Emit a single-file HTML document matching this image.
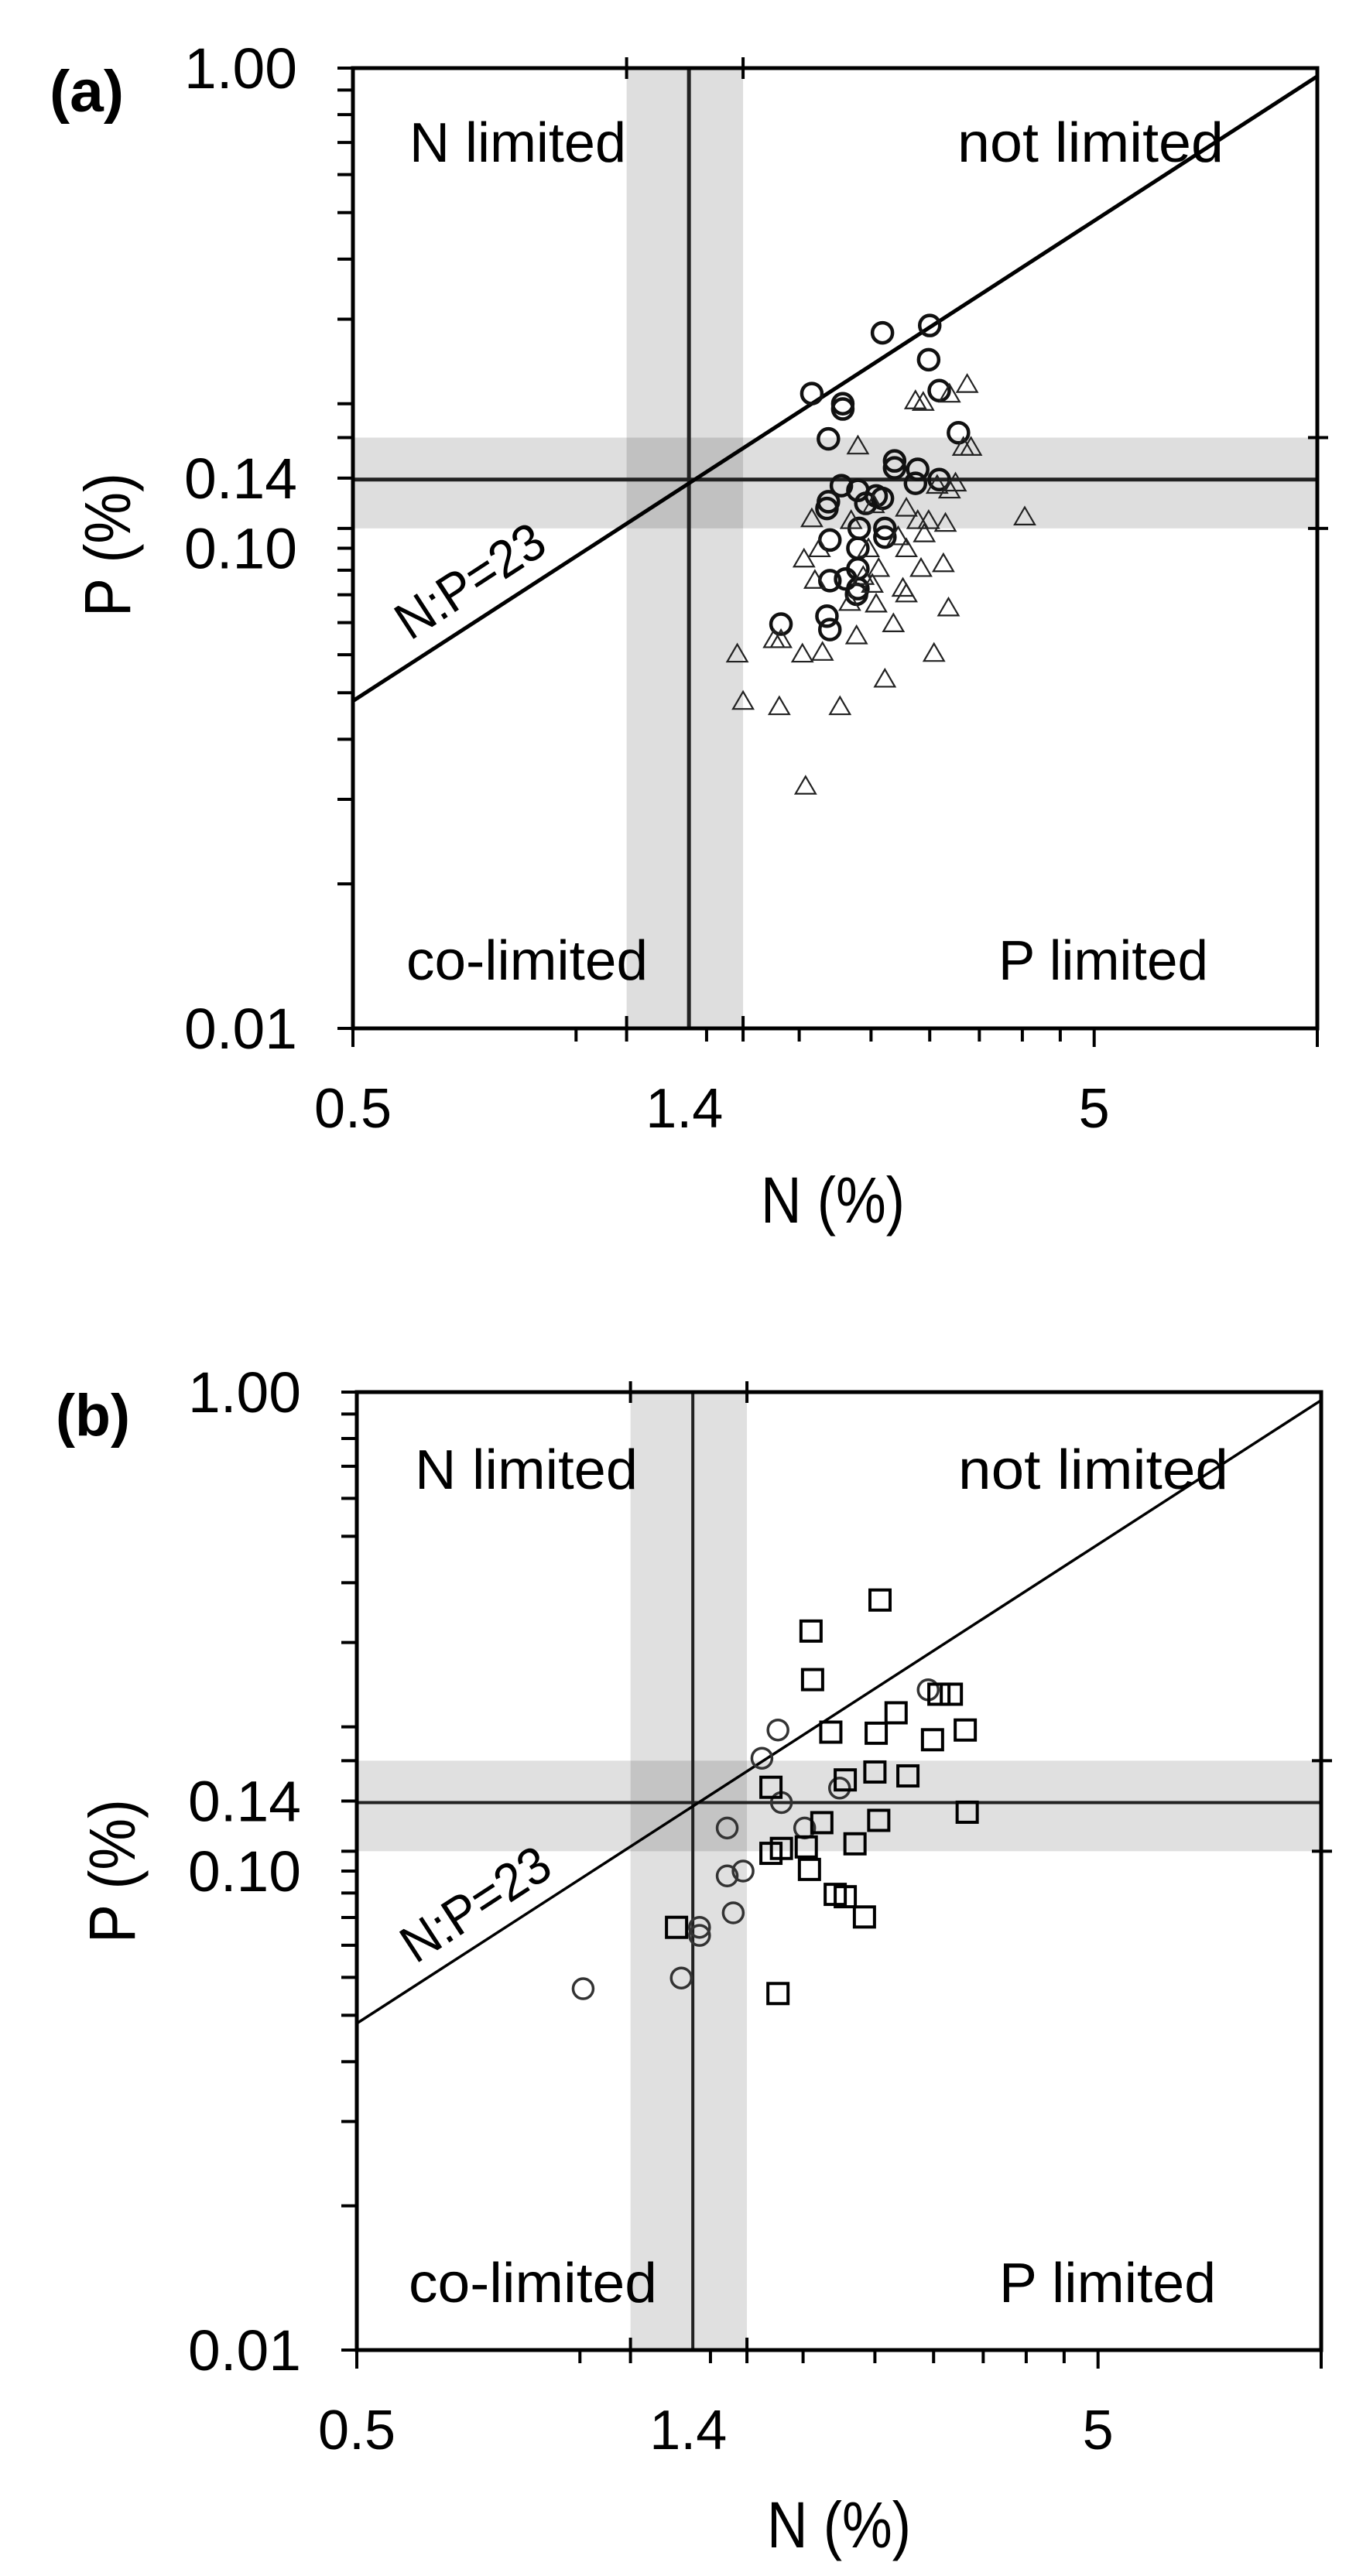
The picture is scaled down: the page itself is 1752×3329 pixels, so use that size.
<!DOCTYPE html>
<html><head><meta charset="utf-8"><title>N vs P limitation plots</title>
<style>html,body{margin:0;padding:0;background:#fff}svg{display:block}text{font-family:"Liberation Sans",sans-serif;fill:#000}</style>
</head><body>
<svg id="chart" width="1752" height="3329" viewBox="0 0 1752 3329" xmlns="http://www.w3.org/2000/svg"></svg>
<script>
// ---- data (N %, P %) ----
const xTickLabels = ["0.5", "1.4", "5"];
const xTickValues = [0.5, 1.4, 5];
const yTickLabels = ["1.00", "0.14", "0.10", "0.01"];
const yTickValues = [1, 0.14, 0.10, 0.01];
const xMinorTicks = [1, 1.17, 1.5, 1.68, 2, 2.5, 3, 3.5, 4, 4.5, 10];
const yMinorTicks = [0.02,0.03,0.04,0.05,0.06,0.07,0.08,0.09,0.11,0.17,0.2,0.3,0.4,0.5,0.6,0.7,0.8,0.9];
const nCritical = [1.17, 1.42, 1.68];
const pCritical = [0.11, 0.139, 0.17];
const npRatio = 10.4;

const aCircleN = [2.59,3.00,2.99,3.09,2.08,2.29,2.29,3.28,2.19,2.69,2.69,2.89,3.09,2.28,2.40,2.59,2.19,2.18,2.46,2.41,2.61,2.61,2.20,2.40,2.40,2.20,2.31,2.40,2.39,1.89,2.18,2.20,2.87,2.54];
const aCircleP = [0.281,0.291,0.247,0.213,0.210,0.200,0.195,0.174,0.169,0.152,0.147,0.146,0.139,0.135,0.132,0.127,0.125,0.121,0.124,0.110,0.110,0.1055,0.104,0.100,0.0906,0.0856,0.0863,0.0824,0.0802,0.0695,0.0722,0.0677,0.1365,0.1285];
const aTriN = [2.40,3.37,2.94,3.19,3.33,3.41,3.25,4.03,2.79,2.89,2.99,3.15,2.95,2.08,2.13,2.03,2.10,2.52,2.56,2.79,2.92,3.13,2.76,2.79,2.54,3.18,2.68,2.39,2.34,1.85,1.89,2.02,2.15,1.65,3.04,2.61,1.68,1.88,2.27,2.04,2.87,2.48,2.44,2.72,2.35,2.51,3.07,3.19];
const aTriP = [0.163,0.219,0.201,0.209,0.162,0.162,0.1365,0.116,0.121,0.114,0.114,0.1125,0.107,0.115,0.0996,0.0948,0.0856,0.123,0.0906,0.0996,0.0906,0.0927,0.0824,0.0802,0.0764,0.075,0.0695,0.0656,0.077,0.0644,0.0644,0.0601,0.0606,0.0601,0.0603,0.0533,0.0479,0.0467,0.0467,0.0319,0.2025,0.0996,0.0872,0.1055,0.114,0.084,0.135,0.132];

const bCircleN = [2.95,1.85,1.76,1.87,2.24,1.58,2.01,1.58,1.66,1.61,1.45,1.45,1.37,1.01];
const bCircleP = [0.239,0.197,0.172,0.139,0.149,0.123,0.123,0.0977,0.100,0.0818,0.0763,0.0734,0.0598,0.0568];
const bSquareN = [2.54,2.05,2.06,3.05,3.17,2.67,2.18,2.51,3.31,2.99,2.50,2.77,2.28,1.81,3.33,2.53,2.12,2.35,2.02,1.87,1.81,2.04,2.21,2.28,2.42,1.35,1.85];
const bSquareP = [0.368,0.317,0.251,0.234,0.234,0.214,0.195,0.194,0.197,0.188,0.161,0.158,0.155,0.1496,0.1327,0.1276,0.1262,0.114,0.1123,0.1115,0.1089,0.1008,0.0894,0.0884,0.0802,0.0763,0.0555];

const NS = "http://www.w3.org/2000/svg";
const svg = document.getElementById("chart");
function mk(tag, attrs, parent) {
  const e = document.createElementNS(NS, tag);
  for (const k in attrs) e.setAttribute(k, attrs[k]);
  (parent || svg).appendChild(e);
  return e;
}
function txt(parent, s, attrs) { const t = mk("text", attrs, parent); t.textContent = s; return t; }

function drawPanel(cfg) {
  const L = cfg.left, T = cfg.top, W = cfg.w, H = cfg.h;
  const xs = n => L + Math.log10(n / 0.5) / Math.log10(20) * W;
  const ys = p => T + (-Math.log10(p)) / 2 * H;
  const g = mk("g", {});
  
  

  const vb = mk("rect", {x: xs(nCritical[0]), y: T, width: xs(nCritical[2]) - xs(nCritical[0]), height: H, fill: "#000", "fill-opacity": cfg.bandOp}, g);
  
  
  const hb = mk("rect", {x: L, y: ys(pCritical[2]), width: W, height: ys(pCritical[0]) - ys(pCritical[2]), fill: "#000", "fill-opacity": cfg.bandOp}, g);
  
  

  const vl = mk("line", {x1: xs(nCritical[1]), x2: xs(nCritical[1]), y1: T, y2: T + H, stroke: "#222", "stroke-width": cfg.lw}, g);
  
  
  const hl = mk("line", {x1: L, x2: L + W, y1: ys(pCritical[1]), y2: ys(pCritical[1]), stroke: "#222", "stroke-width": cfg.lw}, g);
  
  
  const rl = mk("line", {x1: xs(0.5), y1: ys(0.5 / npRatio), x2: xs(10), y2: ys(10 / npRatio), stroke: "#000", "stroke-width": cfg.rlw}, g);
  
  

  const fr = mk("rect", {x: L, y: T, width: W, height: H, fill: "none", stroke: "#000", "stroke-width": 5}, g);
  
  

  xMinorTicks.forEach(v => {
    const band = (v === 1.17 || v === 1.68);
    const big = (v === 10);
    const t = mk("line", {x1: xs(v), x2: xs(v), y1: band ? T + H - 16 : T + H, y2: T + H + (big ? 24 : 17), stroke: "#000", "stroke-width": 4}, g);
    
    
    if (band) {
      const t2 = mk("line", {x1: xs(v), x2: xs(v), y1: T - 14, y2: T + 14, stroke: "#000", "stroke-width": 4}, g);
      
      
    }
  });
  xTickValues.forEach((v, i) => {
    if (v !== 1.4) {
      const t = mk("line", {x1: xs(v), x2: xs(v), y1: T + H, y2: T + H + 24, stroke: "#000", "stroke-width": 4}, g);
      
      
    }
    const lb = txt(g, xTickLabels[i], {x: xs(v), y: T + H + 128, "font-size": 72, "text-anchor": "middle"});
    
    
  });
  yMinorTicks.forEach(v => {
    const t = mk("line", {x1: L - 20, x2: L, y1: ys(v), y2: ys(v), stroke: "#000", "stroke-width": 4}, g);
    
    
  });
  [0.11, 0.17].forEach(v => {
    const t = mk("line", {x1: L + W - 12, x2: L + W + 14, y1: ys(v), y2: ys(v), stroke: "#000", "stroke-width": 4}, g);
    
    
  });
  yTickValues.forEach((v, i) => {
    const t = mk("line", {x1: L - 20, x2: L, y1: ys(v), y2: ys(v), stroke: "#000", "stroke-width": 4}, g);
    
    
    const lb = txt(g, yTickLabels[i], {x: L - 72, y: ys(v) + 26, "font-size": 74, "text-anchor": "end", textLength: 146, lengthAdjust: "spacingAndGlyphs"});
    
    
  });

  cfg.series.forEach(s => {
    s.N.forEach((n, i) => {
      const cx = xs(n), cy = ys(s.P[i]);
      let e;
      if (s.shape === "circle") {
        e = mk("circle", {cx: cx, cy: cy, r: s.r, fill: "none", stroke: s.color, "stroke-width": s.sw}, g);
      } else if (s.shape === "triangle") {
        const r = s.r;
        e = mk("polygon", {points: `${cx},${cy - r} ${cx - r},${cy + r * 0.72} ${cx + r},${cy + r * 0.72}`, fill: "none", stroke: s.color, "stroke-width": s.sw}, g);
      } else {
        const r = s.r;
        e = mk("rect", {x: cx - r, y: cy - r, width: 2 * r, height: 2 * r, fill: "none", stroke: s.color, "stroke-width": s.sw}, g);
      }
      
      
    });
  });

  cfg.labels.forEach(lb => {
    const t = txt(g, lb.s, {x: lb.x, y: lb.y, "font-size": lb.fs, textLength: lb.w, lengthAdjust: "spacingAndGlyphs", "font-weight": lb.bold ? "bold" : "normal"});
    if (lb.rot) t.setAttribute("transform", `rotate(${lb.rot} ${lb.cx} ${lb.cy})`);
    if (lb.anchor) t.setAttribute("text-anchor", lb.anchor);
    
    
  });
}

function labelsFor(T, B, tag, regions) {
  return [
    {s: tag, x: regions.tagX, y: T + 56, fs: 76, w: 96, bold: true, name: "panel-label"},
    {s: "N limited", x: regions.nl[0], y: regions.top, fs: 72, w: regions.nl[1], name: "n-limited-label"},
    {s: "not limited", x: regions.no[0], y: regions.top, fs: 72, w: regions.no[1], name: "not-limited-label"},
    {s: "co-limited", x: regions.co[0], y: regions.bot, fs: 72, w: regions.co[1], name: "co-limited-label"},
    {s: "P limited", x: regions.pl[0], y: regions.bot, fs: 72, w: regions.pl[1], name: "p-limited-label"},
    {s: "N (%)", x: regions.xl[0], y: regions.xl[1], fs: 84, w: 186, anchor: "middle", name: "x-axis-title"},
    {s: "P (%)", x: regions.yl[0], y: regions.yl[1] + 30, fs: 84, w: 186, anchor: "middle", rot: -90, cx: regions.yl[0], cy: regions.yl[1], name: "y-axis-title"},
    {s: "N:P=23", x: regions.np[0], y: regions.np[1] + 24, fs: 68, w: 215, anchor: "middle", rot: -33, cx: regions.np[0], cy: regions.np[1], name: "np-ratio-label"}
  ];
}

drawPanel({
  name: "panel-a", left: 456, top: 88, w: 1246, h: 1241, bandOp: 0.13, lw: 5, rlw: 5,
  series: [
    {name: "circle-point", shape: "circle", N: aCircleN, P: aCircleP, r: 13, sw: 4.5, color: "#111"},
    {name: "triangle-point", shape: "triangle", N: aTriN, P: aTriP, r: 13, sw: 2.2, color: "#222"}
  ],
  labels: labelsFor(88, 1329, "(a)", {tagX: 64, nl: [529, 280], no: [1237, 344], co: [525, 312], pl: [1290, 271], top: 209, bot: 1266, xl: [1076, 1580], yl: [138, 704], np: [607, 750]})
});
drawPanel({
  name: "panel-b", left: 461, top: 1799, w: 1246, h: 1238, bandOp: 0.12, lw: 4, rlw: 3.5,
  series: [
    {name: "circle-point", shape: "circle", N: bCircleN, P: bCircleP, r: 13, sw: 3.5, color: "#333"},
    {name: "square-point", shape: "square", N: bSquareN, P: bSquareP, r: 13, sw: 4, color: "#000"}
  ],
  labels: labelsFor(1799, 3037, "(b)", {tagX: 72, nl: [536, 288], no: [1238, 349], co: [528, 321], pl: [1291, 280], top: 1924, bot: 2975, xl: [1084, 3292], yl: [144, 2418], np: [614, 2460]})
});
</script>
</body></html>
